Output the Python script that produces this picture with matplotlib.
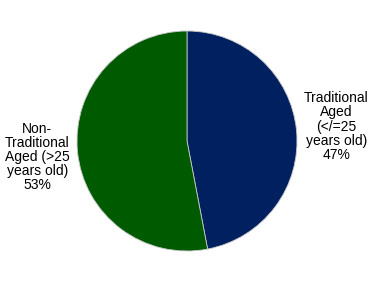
import matplotlib.pyplot as plt

labels = ['Traditional\nAged\n(</=25\nyears old)\n47%',
          'Non-\nTraditional\nAged (>25\nyears old)\n53%']
shares = [47, 53]
colors = ['#002060', '#005a00']

plt.rcParams['font.family'] = ['Liberation Sans', 'DejaVu Sans']

fig = plt.figure(figsize=(3.74, 2.84), dpi=100)
ax = fig.add_axes([77 / 374, 33 / 284, 220 / 374, 220 / 284])

ax.pie(shares, colors=colors, startangle=90, counterclock=False,
       wedgeprops={'linewidth': 0.6, 'edgecolor': '#c8c8c8'})
ax.set_xlim(-1, 1)
ax.set_ylim(-1, 1)
ax.set_aspect('equal')
ax.axis('off')

# labels sit beside the pie
ax.text(1.36, 0.13, labels[0], ha='center', va='center', fontsize=10,
        linespacing=1.02, clip_on=False)
ax.text(-1.36, -0.145, labels[1], ha='center', va='center', fontsize=10,
        linespacing=1.02, clip_on=False)

fig.savefig('out.png', dpi=100)
